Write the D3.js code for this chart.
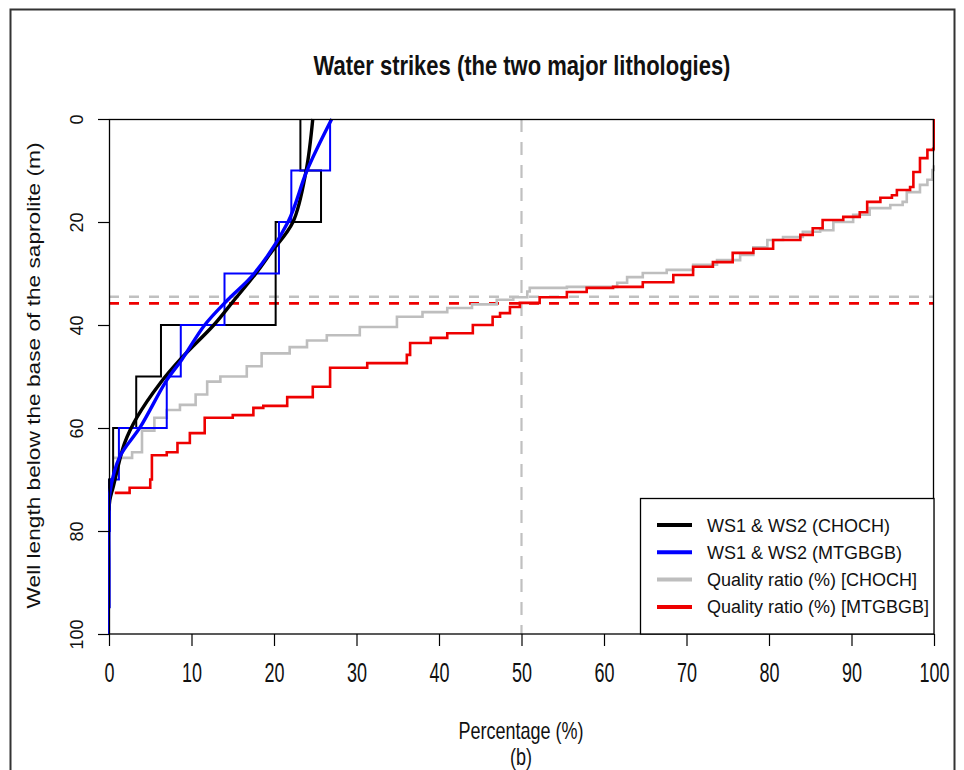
<!DOCTYPE html>
<html><head><meta charset="utf-8">
<script src="https://cdn.jsdelivr.net/npm/d3@7"></script>
<style>body{margin:0;background:#fff}svg{display:block}text{font-family:"Liberation Sans",Arial,sans-serif;fill:#111}</style>
</head><body><svg id="c" width="964" height="770"></svg>
<script>
// ---- data ----
const xTicks = [0,10,20,30,40,50,60,70,80,90,100];
const yTicks = [0,20,40,60,80,100];
const binTops = [0,10,20,30,40,50,60,70,80,90];
// step (binned) water-strike percentages per 10 m bin
const wsChoch = [23.2,25.7,20.2,20.2,6.3,3.3,0.5,0.0];
const wsMtg   = [26.8,22.1,20.6,14.0,8.7,7.0,1.2,0.1,0.0,0.0];
// smoothed curves [percentage, depth]
const smoothChoch = [[24.7,0],[23.9,10],[22.3,20],[19.6,26],[17.8,30],[15.0,35.5],[12.7,40],[8.8,46.4],[6.2,51.3],[3.4,57.9],[1.9,62.9],[0.5,71.5],[0.1,74],[0,76]];
const smoothMtg   = [[27.0,0],[24.0,10],[21.7,20],[17.6,30],[14.4,35.1],[11.6,40],[8.8,46.8],[7.0,50.7],[3.8,59.8],[1.3,65.6],[0.1,72.6],[0,76],[0,87],[0,95]];
// quality ratio cumulative curves [percentage, depth]
const qrChoch = [[0.6,65.8],[2.8,64.7],[4.0,60.5],[5.5,58.0],[7.0,56.5],[8.6,55.5],[10.5,53.5],[11.9,51.0],[13.5,50.0],[16.7,48.0],[18.5,45.5],[21.9,44.3],[24.0,43.0],[26.4,42.0],[30.4,40.4],[34.9,38.4],[38.0,37.5],[41.0,36.7],[44.0,36.0],[47.0,35.1],[49.0,34.6],[50.7,33.5],[51.0,32.8],[55.5,32.6],[61.6,31.8],[62.8,30.7],[64.7,29.9],[67.6,29.3],[70.8,28.3],[73.7,27.4],[76.5,26.4],[78.1,24.9],[79.8,23.5],[81.7,22.9],[84.1,21.9],[86.2,21.6],[87.8,20.0],[90.2,18.6],[92.2,17.3],[94.7,16.7],[96.2,16.1],[96.7,14.2],[98.3,12.8],[99.2,11.8],[99.8,9.9],[100,9.0]];
const qrMtg = [[0.7,72.6],[2.5,71.6],[5.0,70.0],[5.2,65.3],[7.0,64.7],[8.3,62.9],[9.8,61.0],[11.6,58.0],[15.0,57.5],[17.5,56.1],[18.7,55.7],[21.6,54.0],[24.7,52.0],[26.8,48.3],[31.3,47.4],[36.1,45.8],[36.5,43.5],[39.0,42.5],[41.0,41.6],[44.1,40.0],[46.5,38.4],[47.4,37.7],[48.6,36.5],[49.8,35.7],[52.2,34.6],[55.5,33.6],[57.9,32.8],[61.1,32.6],[64.7,31.7],[68.4,30.3],[70.8,28.7],[73.2,27.8],[75.6,26.0],[78.1,25.2],[80.5,23.5],[83.8,22.5],[85.3,21.2],[86.5,19.6],[89.0,19.0],[91.0,18.1],[91.9,16.1],[93.5,15.3],[94.9,14.8],[95.5,13.8],[97.1,13.2],[97.5,10.3],[98.3,7.6],[99.2,6.0],[99.9,5.8],[100,0]];
const medianDepthChoch = 34.5;
const medianDepthMtg = 35.8;
const medianPct = 50;
const legendLabels = ["WS1 & WS2 (CHOCH)","WS1 & WS2 (MTGBGB)","Quality ratio (%) [CHOCH]","Quality ratio (%) [MTGBGB]"];
const legendColors = ["#000000","#0000ff","#bebebe","#ee0000"];

// ---- chart ----
const svg = d3.select("#c");
const x = d3.scaleLinear().domain([0,100]).range([109,934]);
const y = d3.scaleLinear().domain([0,100]).range([119,634]);

svg.append("rect").attr("x",10.5).attr("y",9.5).attr("width",944).attr("height",800)
  .attr("fill","none").attr("stroke","#333").attr("stroke-width",2);

svg.append("clipPath").attr("id","pc").append("rect")
  .attr("x",108).attr("y",118).attr("width",827).attr("height",517);
const g = svg.append("g").attr("clip-path","url(#pc)");

// dashed reference lines
g.append("line").attr("x1",x(medianPct)).attr("x2",x(medianPct)).attr("y1",y(0)).attr("y2",y(100))
  .attr("stroke","#c0c0c0").attr("stroke-width",2.2).attr("stroke-dasharray","13,10");
g.append("line").attr("x1",x(0)).attr("x2",x(100)).attr("y1",y(medianDepthChoch)).attr("y2",y(medianDepthChoch))
  .attr("stroke","#c0c0c0").attr("stroke-width",2.6).attr("stroke-dasharray","10,10");
g.append("line").attr("x1",x(0)).attr("x2",x(100)).attr("y1",y(medianDepthMtg)).attr("y2",y(medianDepthMtg))
  .attr("stroke","#ee0000").attr("stroke-width",2.8).attr("stroke-dasharray","10,10");

const stepLine = d3.line().x(d=>x(d[0])).y(d=>y(d[1])).curve(d3.curveStepAfter);
g.append("path").attr("d",stepLine(qrChoch)).attr("fill","none").attr("stroke","#bebebe").attr("stroke-width",2.6);
g.append("path").attr("d",stepLine(qrMtg)).attr("fill","none").attr("stroke","#ee0000").attr("stroke-width",2.6);

function binPath(vals){
  const pts=[];
  vals.forEach((v,i)=>{pts.push([v,binTops[i]]);pts.push([v,binTops[i]+10]);});
  return pts;
}
const lin = d3.line().x(d=>x(d[0])).y(d=>y(d[1]));
g.append("path").attr("d",lin(binPath(wsChoch))).attr("fill","none").attr("stroke","#000").attr("stroke-width",2);
g.append("path").attr("d",lin(binPath(wsMtg))).attr("fill","none").attr("stroke","#0000ff").attr("stroke-width",2);

const smooth = d3.line().x(d=>x(d[0])).y(d=>y(d[1])).curve(d3.curveCatmullRom.alpha(0.5));
g.append("path").attr("d",smooth(smoothChoch)).attr("fill","none").attr("stroke","#000").attr("stroke-width",3.4);
g.append("path").attr("d",smooth(smoothMtg)).attr("fill","none").attr("stroke","#0000ff").attr("stroke-width",3.4);

// axes
const xa = svg.append("g").attr("transform","translate(0,634)")
  .call(d3.axisBottom(x).tickValues(xTicks).tickSize(12).tickSizeOuter(0).tickFormat(d3.format("d")));
xa.select(".domain").remove();
xa.selectAll("line").attr("stroke","#000").attr("stroke-width",1.2);
xa.selectAll("text").attr("y",0).attr("dy",0).attr("transform","translate(0,48) scale(1,1.5)")
  .attr("font-size",18).attr("fill","#111").style("font-family","Liberation Sans, Arial, sans-serif");

const ya = svg.append("g").attr("transform","translate(109,0)")
  .call(d3.axisLeft(y).tickValues(yTicks).tickSize(11).tickSizeOuter(0).tickFormat(d3.format("d")));
ya.select(".domain").remove();
ya.selectAll("line").attr("stroke","#000").attr("stroke-width",1.2);
ya.selectAll("text").attr("x",0).attr("dy",0).attr("text-anchor","middle")
  .attr("transform","translate(-26,0) rotate(-90)")
  .attr("font-size",18).attr("fill","#111").style("font-family","Liberation Sans, Arial, sans-serif");

// plot box
svg.append("rect").attr("x",109.5).attr("y",119.5).attr("width",824).attr("height",514.5)
  .attr("fill","none").attr("stroke","#000").attr("stroke-width",1.3);

// legend
const lg = svg.append("g");
lg.append("rect").attr("x",640.5).attr("y",498.5).attr("width",293.5).attr("height",135.5)
  .attr("fill","#fff").attr("stroke","#000").attr("stroke-width",1.3);
legendLabels.forEach((t,i)=>{
  const cy = 525 + i*27.3;
  lg.append("line").attr("x1",657).attr("x2",692).attr("y1",cy).attr("y2",cy)
    .attr("stroke",legendColors[i]).attr("stroke-width",4);
  lg.append("text").attr("x",707).attr("y",cy+6.5).attr("font-size",18).text(t);
});

// titles
svg.append("text").attr("transform","translate(522,75) scale(1,1.27)").attr("text-anchor","middle")
  .attr("font-size",22).attr("font-weight","bold").text("Water strikes (the two major lithologies)");
svg.append("text").attr("transform","translate(521,739) scale(1,1.3)").attr("text-anchor","middle")
  .attr("font-size",18).text("Percentage (%)");
svg.append("text").attr("transform","translate(521,765) scale(1,1.3)").attr("text-anchor","middle")
  .attr("font-size",18).text("(b)");
svg.append("text").attr("transform","translate(40,375.5) scale(1,1.26) rotate(-90)").attr("text-anchor","middle")
  .attr("font-size",18).text("Well length below the base of the saprolite (m)");
</script></body></html>
